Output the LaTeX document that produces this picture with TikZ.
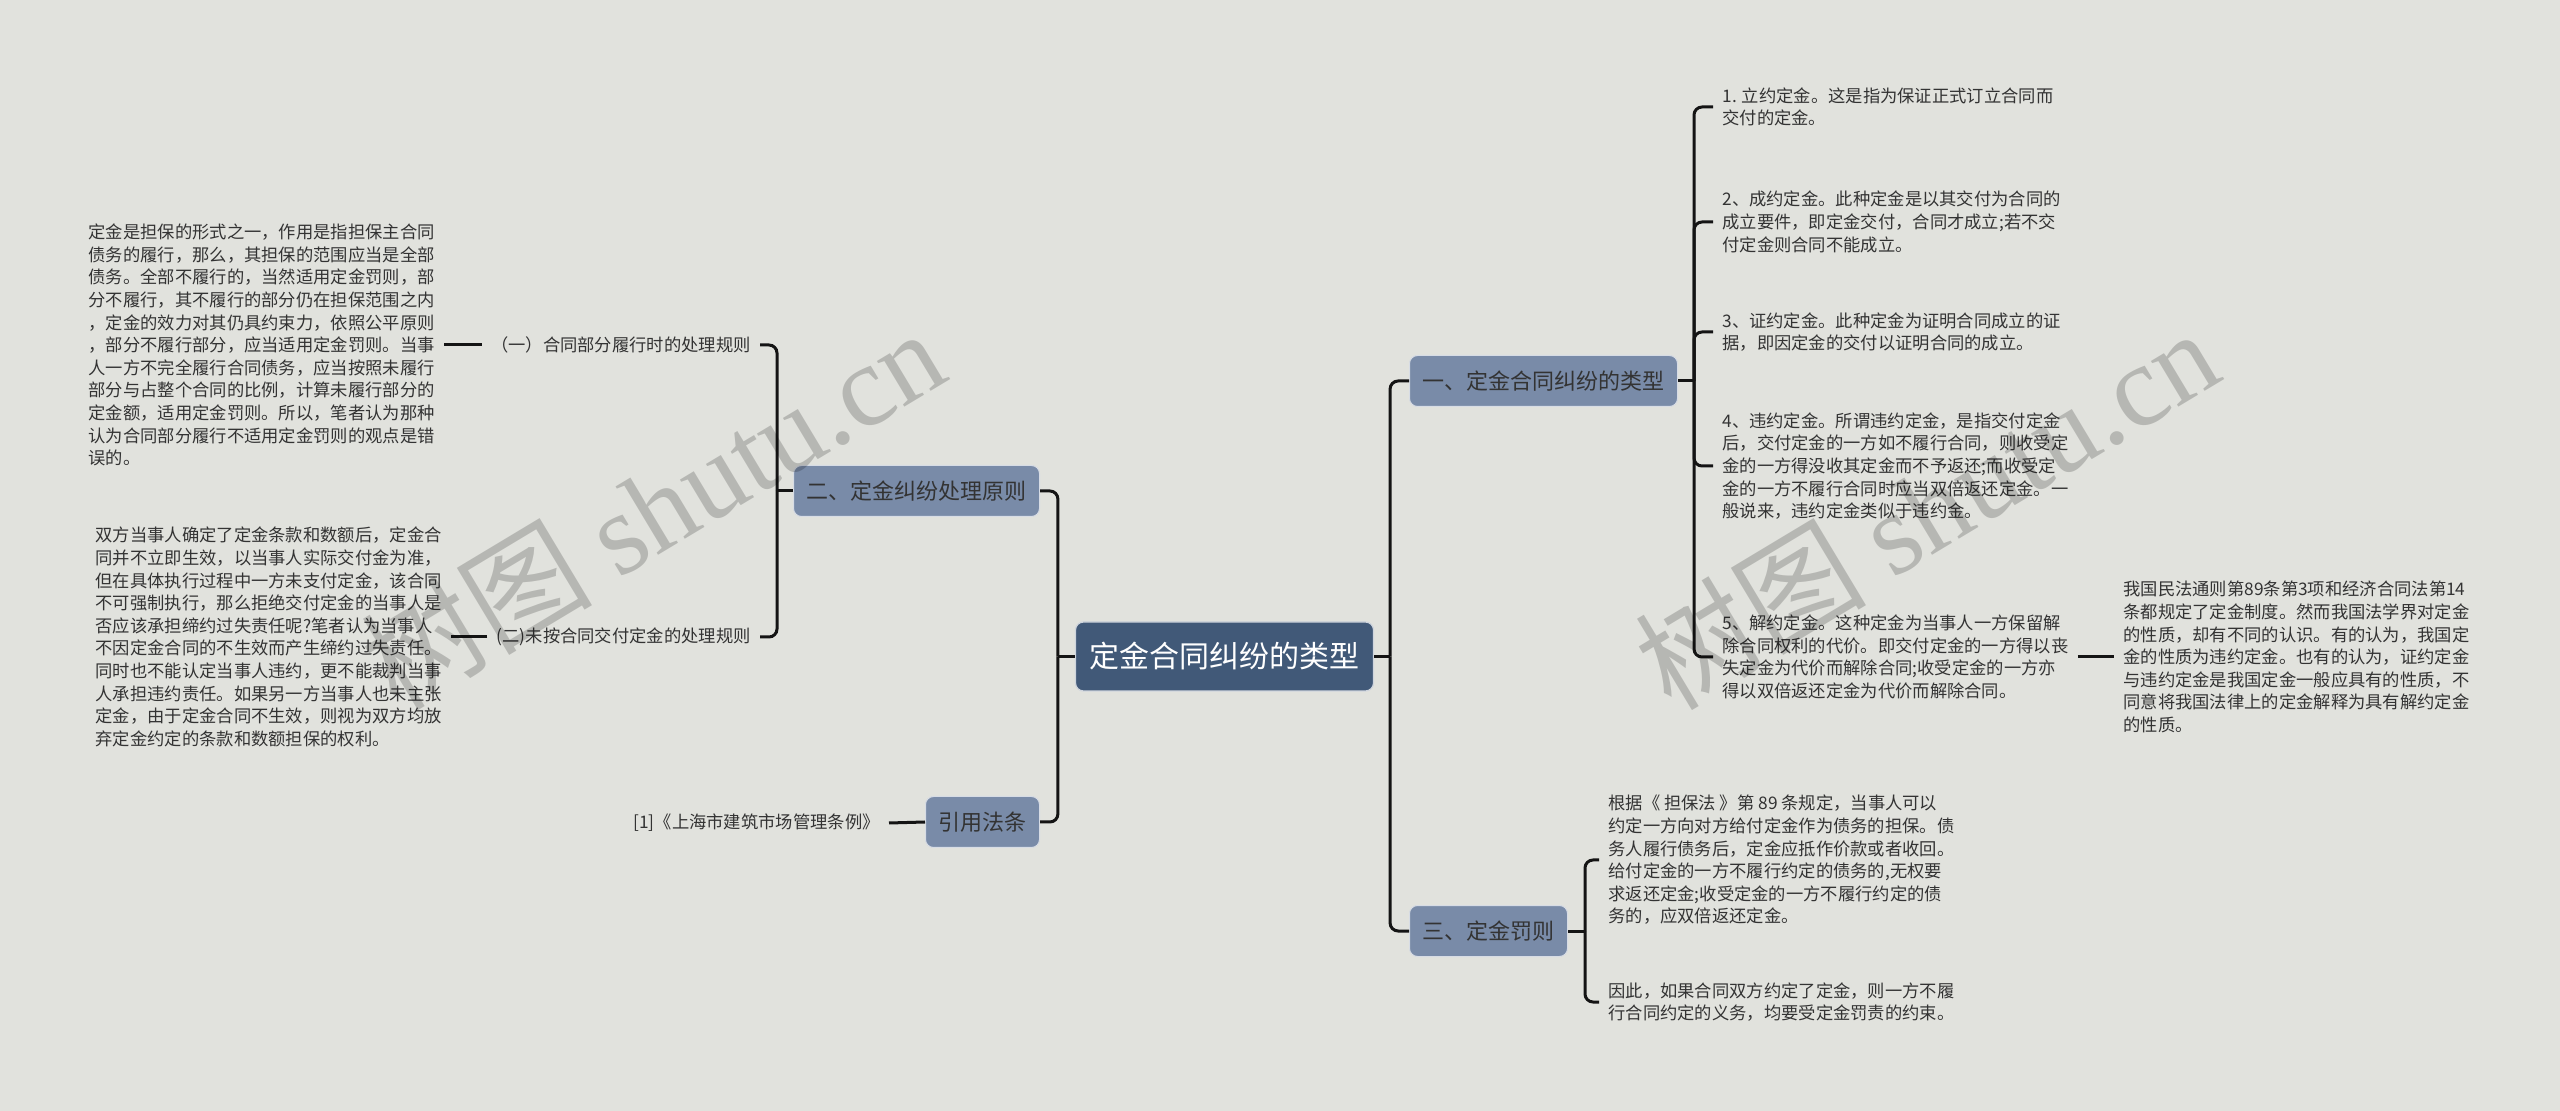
\documentclass[tikz,border=0pt]{standalone}
\usepackage{fontspec}
\setmainfont{Noto Sans CJK SC}
\newfontfamily\wmfont{Liberation Serif}
\usepackage{tikz}
\usetikzlibrary{positioning,calc}
\definecolor{bgcol}{RGB}{225,226,221}
\definecolor{rootblue}{RGB}{65,89,120}
\definecolor{topicblue}{RGB}{121,139,168}
\definecolor{txtgray}{RGB}{51,51,51}
\tikzset{
  rootbox/.style={fill=rootblue, draw=white!75!rootblue, line width=0.6pt, rounded corners=4pt, text=white, font=\fontsize{15}{18}\selectfont, inner xsep=7pt, minimum height=34.5pt},
  topic/.style={fill=topicblue, draw=white!70!topicblue, line width=0.5pt, rounded corners=4pt, text=txtgray, font=\fontsize{11}{13}\selectfont, inner xsep=6.5pt, minimum height=25.5pt},
  leaf/.style={text=txtgray, font=\fontsize{8.65}{11.3}\selectfont, align=left, inner xsep=4.5pt, inner ysep=1pt},
  link/.style={draw=black!92, line width=1.5pt, rounded corners=4pt},
  wm/.style={text=black, text opacity=0.19, font=\fontsize{58}{58}\selectfont, rotate=31},
}

\begin{document}
\begin{tikzpicture}[x=0.5pt, y=-0.5pt]
  \fill[bgcol] (0,0) rectangle (2560,1111);

  \node[rootbox] (root) at (1224.5,656.5) {定金合同纠纷的类型};
  \node[topic, anchor=west] (lei) at (1409,381) {一、定金合同纠纷的类型};
  \node[topic, anchor=west] (fa) at (1409,931) {三、定金罚则};
  \node[topic, anchor=east] (yuanze) at (1040,491) {二、定金纠纷处理原则};
  \node[topic, anchor=east] (yin) at (1040,822) {引用法条};

  \node[leaf, anchor=west] (l1) at (1713,107) {1. 立约定金。这是指为保证正式订立合同而\\交付的定金。};
  \node[leaf, anchor=west] (l2) at (1713,222) {2、成约定金。此种定金是以其交付为合同的\\成立要件，即定金交付，合同才成立;若不交\\付定金则合同不能成立。};
  \node[leaf, anchor=west] (l3) at (1713,332) {3、证约定金。此种定金为证明合同成立的证\\据，即因定金的交付以证明合同的成立。};
  \node[leaf, anchor=west] (l4) at (1713,466) {4、违约定金。所谓违约定金，是指交付定金\\后，交付定金的一方如不履行合同，则收受定\\金的一方得没收其定金而不予返还;而收受定\\金的一方不履行合同时应当双倍返还定金。一\\般说来，违约定金类似于违约金。};
  \node[leaf, anchor=west] (l5) at (1713,657) {5、解约定金。这种定金为当事人一方保留解\\除合同权利的代价。即交付定金的一方得以丧\\失定金为代价而解除合同;收受定金的一方亦\\得以双倍返还定金为代价而解除合同。};
  \node[leaf, anchor=west] (xz) at (2114,657) {我国民法通则第89条第3项和经济合同法第14\\条都规定了定金制度。然而我国法学界对定金\\的性质，却有不同的认识。有的认为，我国定\\金的性质为违约定金。也有的认为，证约定金\\与违约定金是我国定金一般应具有的性质，不\\同意将我国法律上的定金解释为具有解约定金\\的性质。};

  \node[leaf, anchor=west] (f1) at (1599,860) {根据《 担保法 》第 89 条规定，当事人可以\\约定一方向对方给付定金作为债务的担保。债\\务人履行债务后，定金应抵作价款或者收回。\\给付定金的一方不履行约定的债务的,无权要\\求返还定金;收受定金的一方不履行约定的债\\务的，应双倍返还定金。};
  \node[leaf, anchor=west] (f2) at (1599,1002) {因此，如果合同双方约定了定金，则一方不履\\行合同约定的义务，均要受定金罚责的约束。};

  \node[leaf, anchor=east] (y1) at (760,345) {（一）合同部分履行时的处理规则};
  \node[leaf, anchor=east] (y2) at (760,637) {(二)未按合同交付定金的处理规则};
  \node[leaf, anchor=east] (y1t) at (444,345) {定金是担保的形式之一，作用是指担保主合同\\债务的履行，那么，其担保的范围应当是全部\\债务。全部不履行的，当然适用定金罚则，部\\分不履行，其不履行的部分仍在担保范围之内\\，定金的效力对其仍具约束力，依照公平原则\\，部分不履行部分，应当适用定金罚则。当事\\人一方不完全履行合同债务，应当按照未履行\\部分与占整个合同的比例，计算未履行部分的\\定金额，适用定金罚则。所以，笔者认为那种\\认为合同部分履行不适用定金罚则的观点是错\\误的。};
  \node[leaf, anchor=east] (y2t) at (451,637) {双方当事人确定了定金条款和数额后，定金合\\同并不立即生效，以当事人实际交付金为准，\\但在具体执行过程中一方未支付定金，该合同\\不可强制执行，那么拒绝交付定金的当事人是\\否应该承担缔约过失责任呢?笔者认为当事人\\不因定金合同的不生效而产生缔约过失责任。\\同时也不能认定当事人违约，更不能裁判当事\\人承担违约责任。如果另一方当事人也未主张\\定金，由于定金合同不生效，则视为双方均放\\弃定金约定的条款和数额担保的权利。};
  \node[leaf, anchor=east] (yr) at (889,823) {[1]《上海市建筑市场管理条例》};

  \coordinate (jr) at ($(root.east)+(16,0)$);
  \coordinate (jl) at ($(root.west)+(-17,0)$);
  \coordinate (j1) at ($(lei.east)+(16,0)$);
  \coordinate (j2) at ($(yuanze.west)+(-16,0)$);
  \coordinate (j3) at ($(fa.east)+(17,0)$);

  \draw[link] (root.east) -- (jr);
  \draw[link] (jr) |- (lei.west);
  \draw[link] (jr) |- (fa.west);
  \draw[link] (root.west) -- (jl);
  \draw[link] (jl) |- (yuanze.east);
  \draw[link] (jl) |- (yin.east);

  \draw[link] (lei.east) -- (j1);
  \foreach \c in {l1,l2,l3,l4,l5}
    \draw[link] (j1) |- (\c.west);
  \draw[link] (l5.east) -- (xz.west);

  \draw[link] (fa.east) -- (j3);
  \draw[link] (j3) |- (f1.west);
  \draw[link] (j3) |- (f2.west);

  \draw[link] (yuanze.west) -- (j2);
  \draw[link] (j2) |- (y1.east);
  \draw[link] (j2) |- (y2.east);
  \draw[link] (y1.west) -- (y1t.east);
  \draw[link] (y2.west) -- (y2t.east);
  \draw[link] (yin.west) -- (yr.east);

  \node[wm] (wma) at (652,508) {树图 {\wmfont shutu.cn}};
  \node[wm] (wmb) at (1926,508) {树图 {\wmfont shutu.cn}};
\end{tikzpicture}
\end{document}
